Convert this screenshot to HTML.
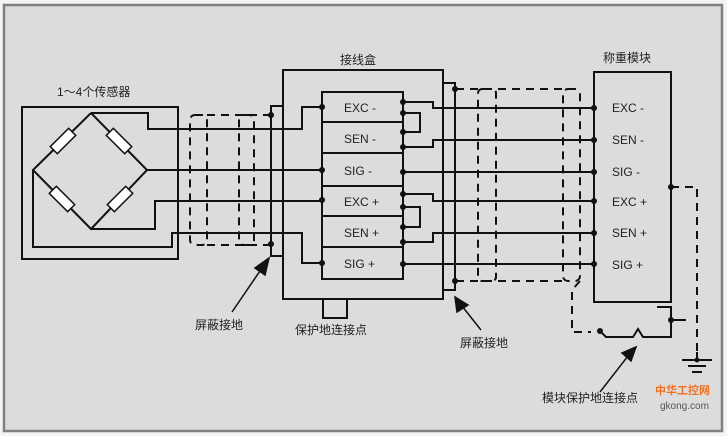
<!DOCTYPE html>
<html><head><style>
html,body{margin:0;padding:0;background:#f4f4f4;}
svg{display:block;}
text{font-family:"Liberation Sans","Noto Sans CJK SC",sans-serif;font-size:12px;fill:#222;}
</style></head><body>
<svg width="727" height="436" viewBox="0 0 727 436">
<rect x="4" y="5" width="718" height="426" fill="#dcdcdc" stroke="#808080" stroke-width="2.5"/>
<g stroke="#111" stroke-width="2" fill="none">
<!-- sensor -->
<rect x="22" y="107" width="156" height="152"/>
<polyline points="91,113 33,170 91,229 147,170 91,113"/>
<polyline points="91,113 148,113 148,129 283,129"/>
<line x1="147" y1="170" x2="283" y2="170"/>
<polyline points="91,229 155,229 155,201 283,201"/>
<polyline points="33,170 33,247 172,247 172,233 283,233"/>
<!-- left shield -->
<polyline points="283,106 271,106 271,256 283,256"/>
<!-- junction box -->
<rect x="283" y="70" width="160" height="229"/>
<rect x="323" y="299" width="24" height="19"/>
<rect x="322" y="92" width="81" height="187"/>
<line x1="322" y1="122" x2="403" y2="122"/>
<line x1="322" y1="153" x2="403" y2="153"/>
<line x1="322" y1="186" x2="403" y2="186"/>
<line x1="322" y1="216" x2="403" y2="216"/>
<line x1="322" y1="247" x2="403" y2="247"/>
<polyline points="283,129 302,129 302,107 322,107"/>
<line x1="283" y1="170" x2="322" y2="170"/>
<line x1="283" y1="201" x2="322" y2="201"/>
<polyline points="283,233 302,233 302,263 322,263"/>
<polyline points="403,113 420,113 420,132 403,132"/>
<polyline points="403,207 420,207 420,227 403,227"/>
<polyline points="403,102 433,102 433,108 594,108"/>
<polyline points="403,147 433,147 433,140 594,140"/>
<line x1="403" y1="172" x2="594" y2="172"/>
<polyline points="403,194 433,194 433,201 594,201"/>
<polyline points="403,242 433,242 433,233 594,233"/>
<line x1="403" y1="264" x2="594" y2="264"/>
<polyline points="443,83 455,83 455,290 443,290"/>
<!-- module -->
<rect x="594" y="72" width="77" height="230"/>
<polyline points="657,307 671,307 671,337 643,337 638,329 633,337 606,337 600,331"/>
<line x1="671" y1="320" x2="686" y2="320"/>
<line x1="682" y1="360" x2="712" y2="360"/>
<line x1="688" y1="366" x2="706" y2="366"/>
<line x1="692" y1="372" x2="702" y2="372"/>
<line x1="697" y1="352" x2="697" y2="360"/>
</g>
<g stroke="#111" stroke-width="2" fill="none" stroke-dasharray="8,6">
<rect x="190" y="115" width="17" height="130" rx="5"/>
<rect x="239" y="115" width="15" height="130" rx="5"/>
<line x1="207" y1="115" x2="270" y2="115"/>
<line x1="207" y1="245" x2="270" y2="245"/>
<rect x="478" y="89" width="18" height="192" rx="4"/>
<rect x="563" y="89" width="17" height="192" rx="5"/>
<line x1="456" y1="89" x2="565" y2="89"/>
<line x1="456" y1="281" x2="565" y2="281"/>
<polyline points="580,281 572,290 572,332 591,332"/>
<polyline points="671,187 697,187 697,352"/>
</g>
<g fill="#111">
<circle cx="271" cy="115" r="3"/><circle cx="271" cy="244" r="3"/>
<circle cx="322" cy="107" r="3"/><circle cx="322" cy="170" r="3"/><circle cx="322" cy="200" r="3"/><circle cx="322" cy="263" r="3"/>
<circle cx="403" cy="102" r="3"/><circle cx="403" cy="113" r="3"/><circle cx="403" cy="132" r="3"/><circle cx="403" cy="147" r="3"/>
<circle cx="403" cy="172" r="3"/><circle cx="403" cy="194" r="3"/><circle cx="403" cy="207" r="3"/><circle cx="403" cy="227" r="3"/><circle cx="403" cy="242" r="3"/><circle cx="403" cy="264" r="3"/>
<circle cx="455" cy="89" r="3"/><circle cx="455" cy="281" r="3"/>
<circle cx="594" cy="108" r="3"/><circle cx="594" cy="140" r="3"/><circle cx="594" cy="172" r="3"/><circle cx="594" cy="201" r="3"/><circle cx="594" cy="233" r="3"/><circle cx="594" cy="264" r="3"/>
<circle cx="671" cy="187" r="3"/><circle cx="671" cy="320" r="3"/><circle cx="600" cy="331" r="3"/><circle cx="697" cy="360" r="2.5"/>
</g>
<!-- resistors -->
<g fill="#fff" stroke="#111" stroke-width="1.5">
<rect x="-13" y="-5" width="26" height="10" transform="translate(63,141) rotate(-45)"/>
<rect x="-13" y="-5" width="26" height="10" transform="translate(119,141) rotate(45)"/>
<rect x="-13" y="-5" width="26" height="10" transform="translate(62,199) rotate(45)"/>
<rect x="-13" y="-5" width="26" height="10" transform="translate(120,199) rotate(-45)"/>
</g>
<!-- arrows -->
<g stroke="#111" stroke-width="1.5" fill="#111">
<line x1="232" y1="312" x2="262" y2="268"/><polygon points="269,258 255,268 265,275"/>
<line x1="481" y1="330" x2="462" y2="306"/><polygon points="455,297 457,312 468,305"/>
<line x1="600" y1="392" x2="628" y2="356"/><polygon points="636,347 622,353 631,361"/>
</g>
<text x="57" y="96">1～4个传感器</text>
<text x="340" y="64">接线盒</text>
<text x="603" y="62">称重模块</text>
<g>
<text x="344" y="112">EXC -</text>
<text x="344" y="143">SEN -</text>
<text x="344" y="175">SIG -</text>
<text x="344" y="206">EXC +</text>
<text x="344" y="237">SEN +</text>
<text x="344" y="268">SIG +</text>
<text x="612" y="112">EXC -</text>
<text x="612" y="144">SEN -</text>
<text x="612" y="176">SIG -</text>
<text x="612" y="206">EXC +</text>
<text x="612" y="237">SEN +</text>
<text x="612" y="269">SIG +</text>
</g>
<text x="195" y="329">屏蔽接地</text>
<text x="295" y="334">保护地连接点</text>
<text x="460" y="347">屏蔽接地</text>
<text x="542" y="402">模块保护地连接点</text>
<text x="655" y="394" style="font-size:11px;fill:#f07020;font-weight:bold">中华工控网</text>
<text x="660" y="409" style="font-size:10px;fill:#555">gkong.com</text>
</svg>
</body></html>
